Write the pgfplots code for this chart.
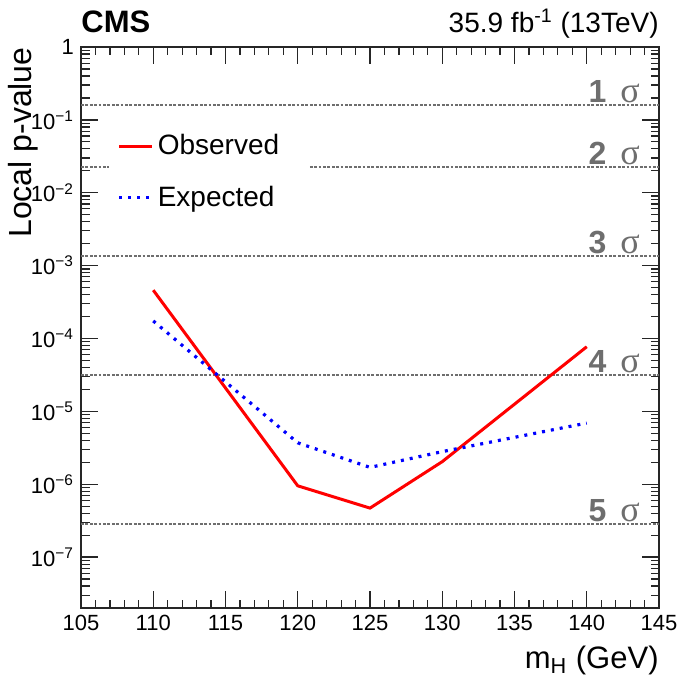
\documentclass[border=0pt]{standalone}
\usepackage{fontspec}
\setmainfont{Liberation Sans}
\newfontfamily\serifsym{Liberation Serif}
\usepackage{pgfplots}
\pgfplotsset{compat=1.18}
\definecolor{sigmagray}{HTML}{6E6E6E}
\definecolor{obsred}{HTML}{FF0000}
\definecolor{expblue}{HTML}{0000FF}

\begin{document}
\begin{tikzpicture}
\useasboundingbox (0,0) rectangle (339.5pt,339pt);
\begin{axis}[
  at={(40.5pt,35pt)}, anchor=south west,
  scale only axis, width=289pt, height=280.5pt,
  xmin=105, xmax=145, ymode=log, ymin=2e-8, ymax=1,
  xtick={105,110,...,145}, minor x tick num=4,
  ytick={1e-7,1e-6,1e-5,1e-4,1e-3,1e-2,1e-1,1},
  minor ytick={2e-8,3e-8,4e-8,5e-8,6e-8,7e-8,8e-8,9e-8,
    2e-7,3e-7,4e-7,5e-7,6e-7,7e-7,8e-7,9e-7,
    2e-6,3e-6,4e-6,5e-6,6e-6,7e-6,8e-6,9e-6,
    2e-5,3e-5,4e-5,5e-5,6e-5,7e-5,8e-5,9e-5,
    2e-4,3e-4,4e-4,5e-4,6e-4,7e-4,8e-4,9e-4,
    2e-3,3e-3,4e-3,5e-3,6e-3,7e-3,8e-3,9e-3,
    2e-2,3e-2,4e-2,5e-2,6e-2,7e-2,8e-2,9e-2,
    0.2,0.3,0.4,0.5,0.6,0.7,0.8,0.9},
  yticklabels={10\textsuperscript{−7},10\textsuperscript{−6},10\textsuperscript{−5},10\textsuperscript{−4},10\textsuperscript{−3},10\textsuperscript{−2},10\textsuperscript{−1},1},
  tick align=inside, tick pos=both,
  major tick length=8.5pt, minor tick length=4.25pt,
  every major tick/.style={black!85, line width=0.7pt},
  every minor tick/.style={black!85, line width=0.6pt},
  axis line style={black!85, line width=0.7pt},
  tick label style={font=\fontsize{11}{13}\selectfont},
  xticklabel style={/pgf/number format/assume math mode=true, /pgf/number format/1000 sep={}},
  xlabel={m\textsubscript{H} (GeV)},
  ylabel={Local p-value},
  xlabel style={font=\fontsize{15.5}{18}\selectfont, at={(rel axis cs:1,-0.107)}, anchor=base east, inner sep=0pt},
  ylabel style={font=\fontsize{16}{19}\selectfont, at={(rel axis cs:-0.085,1)}, anchor=base east, inner sep=0pt},
  legend style={at={(rel axis cs:0.047,0.866)}, anchor=north west, fill=white, draw=none,
    font=\fontsize{14}{17}\selectfont, row sep=10pt, inner xsep=4.5pt, inner ysep=4pt},
  legend cell align=left,
  legend image code/.code={\draw[#1] (0pt,0pt) -- (16.5pt,0pt);},
  clip=false,
]
% sigma reference lines (one-sided p-values)
\addplot[forget plot, sigmagray, line width=0.8pt, dash pattern=on 1.4pt off 0.8pt] coordinates {(105,0.1587) (145,0.1587)};
\addplot[forget plot, sigmagray, line width=0.8pt, dash pattern=on 1.4pt off 0.8pt] coordinates {(105,0.02275) (145,0.02275)};
\addplot[forget plot, sigmagray, line width=0.8pt, dash pattern=on 1.4pt off 0.8pt] coordinates {(105,1.35e-3) (145,1.35e-3)};
\addplot[forget plot, sigmagray, line width=0.8pt, dash pattern=on 1.4pt off 0.8pt] coordinates {(105,3.17e-5) (145,3.17e-5)};
\addplot[forget plot, sigmagray, line width=0.8pt, dash pattern=on 1.4pt off 0.8pt] coordinates {(105,2.87e-7) (145,2.87e-7)};

\addplot[obsred, line width=1.5pt] coordinates {
  (110,4.6e-4) (120,9.5e-7) (125,4.7e-7) (130,2.04e-6) (140,7.7e-5)};
\addlegendentry{\makebox[69pt][l]{Observed}}
\addplot[expblue, line width=1.6pt, dash pattern=on 1.5pt off 3pt] coordinates {
  (110,1.74e-4) (120,3.7e-6) (125,1.7e-6) (130,2.8e-6) (140,6.9e-6)};
\addlegendentry{\makebox[69pt][l]{Expected}}

\foreach \s/\p in {1/0.1587, 2/0.02275, 3/1.35e-3, 4/3.17e-5, 5/2.87e-7}{
  \edef\temp{\noexpand\node[anchor=base east, text=sigmagray, inner sep=0pt, yshift=1.2pt]
    at (axis cs:143.7,\p) {\noexpand\fontsize{16}{18}\noexpand\selectfont\noexpand\textbf{\s}\noexpand\hspace{7pt}{\noexpand\serifsym\noexpand\fontsize{18}{19}\noexpand\selectfont σ}};}
  \temp
}
\node[anchor=base west, inner sep=0pt, font=\fontsize{15.5}{18}\selectfont\bfseries] at (rel axis cs:0,1.025) {CMS};
\node[anchor=base east, inner sep=0pt, font=\fontsize{14}{17}\selectfont] at (rel axis cs:1,1.025) {35.9 fb\textsuperscript{-1} (13TeV)};
\end{axis}
\end{tikzpicture}
\end{document}
